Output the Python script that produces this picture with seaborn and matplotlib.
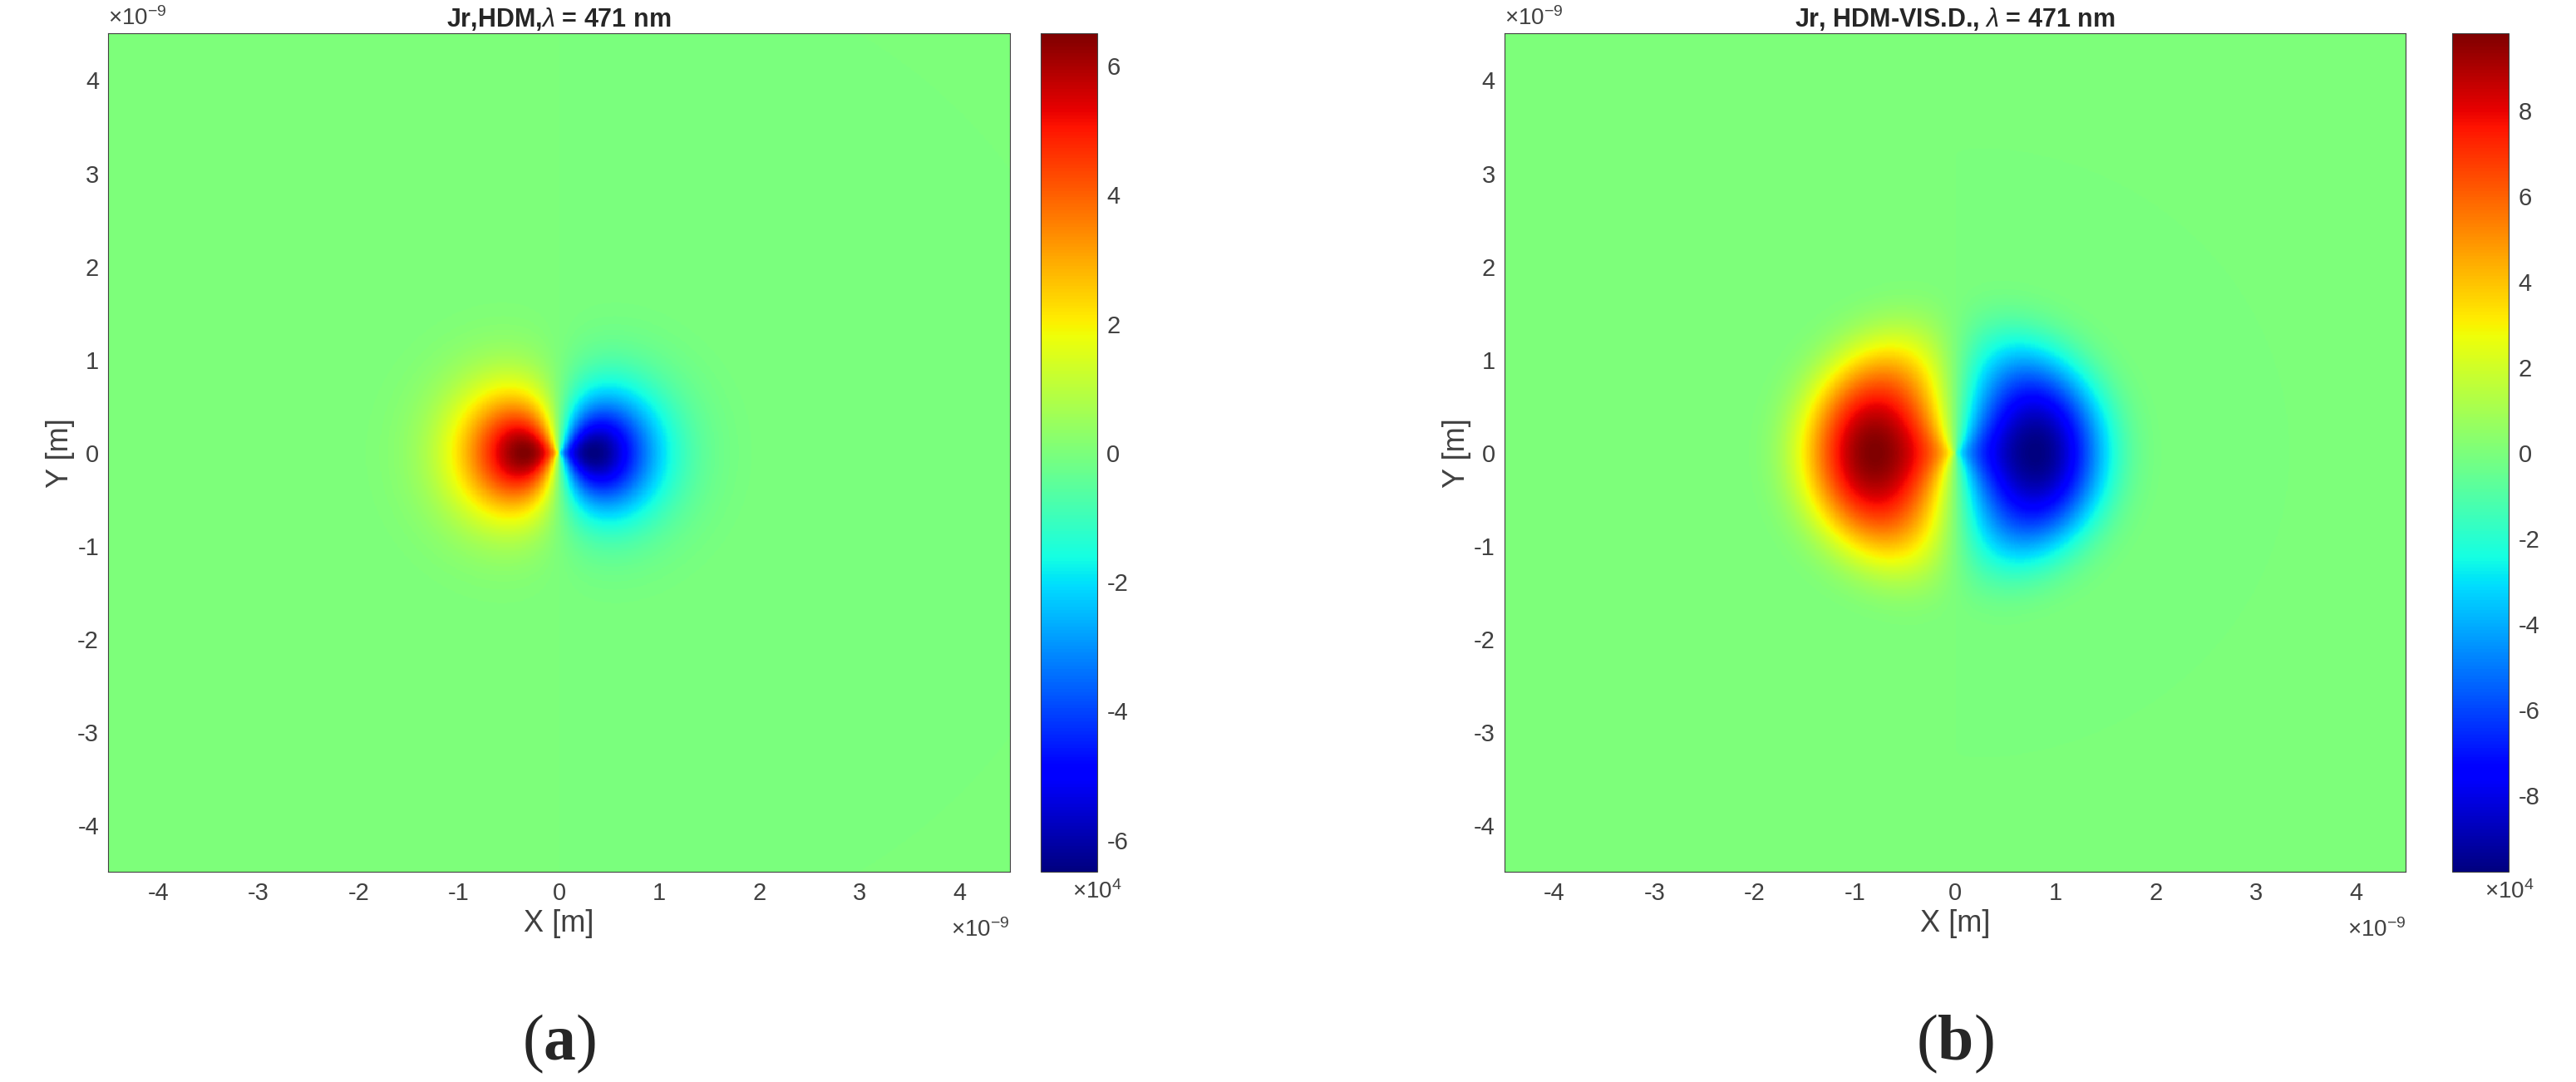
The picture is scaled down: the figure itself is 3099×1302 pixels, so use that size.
import numpy as np
import matplotlib
matplotlib.use("Agg")
import matplotlib.pyplot as plt
import seaborn as sns

titles = ["Jr,HDM,$\\lambda$ = 471 nm", "Jr, HDM-VIS.D., $\\lambda$ = 471 nm"]
panel_labels = ["a", "b"]
peak_amp = [6.5, 9.8]          # x1e4
peak_radius = [0.35, 0.8]      # x1e-9 m
rise_exp = [0.5, 0.5]
decay_exp = [1.8, 4.0]
cbar_ticks = [[-6, -4, -2, 0, 2, 4, 6], [-8, -6, -4, -2, 0, 2, 4, 6, 8]]
axis_ticks = [-4, -3, -2, -1, 0, 1, 2, 3, 4]

sns.set_style("white")
plt.rcParams['font.family'] = ['Liberation Sans', 'DejaVu Sans']
plt.rcParams['axes.unicode_minus'] = False
plt.rcParams['mathtext.fontset'] = 'custom'
plt.rcParams['mathtext.rm'] = 'Liberation Sans'
plt.rcParams['mathtext.it'] = 'Liberation Sans:italic'
plt.rcParams['mathtext.bf'] = 'Liberation Serif:bold'
cmap = plt.get_cmap("jet")
gc = "#404040"

fig = plt.figure(figsize=(30.99, 13.02), dpi=100)
axpos = [[0.042, 0.194, 0.350, 0.775], [0.584, 0.194, 0.350, 0.775]]
cbpos = [[0.404, 0.194, 0.022, 0.775], [0.952, 0.194, 0.022, 0.775]]

g = np.linspace(-4.5, 4.5, 901)
X, Y = np.meshgrid(g, g)
R = np.hypot(X, Y) + 1e-9
for i in range(2):
    rp, k, m, A = peak_radius[i], rise_exp[i], decay_exp[i], peak_amp[i]
    h = (R / rp) ** k * np.exp(k / m * (1 - (R / rp) ** m))
    Z = -A * (X / R) * h
    ax = fig.add_axes(axpos[i])
    mesh = ax.pcolormesh(g, g, Z, cmap=cmap, vmin=-A, vmax=A, shading="auto", rasterized=True)
    ax.set_xlim(-4.5, 4.5); ax.set_ylim(-4.5, 4.5)
    ax.set_xticks(axis_ticks); ax.set_yticks(axis_ticks)
    ax.tick_params(direction="in", labelsize=21, colors=gc, length=8, top=True, right=True, pad=8)
    for s in ax.spines.values():
        s.set_color(gc)
    ax.set_xlabel("X [m]", fontsize=26, color=gc, labelpad=4)
    ax.set_ylabel("Y [m]", fontsize=26, color=gc, labelpad=2)
    ax.set_title(titles[i], fontsize=22, fontweight="bold", pad=6)
    ax.text(0.0, 1.004, "$\\times10^{-9}$", transform=ax.transAxes, fontsize=20, color=gc, va="bottom")
    ax.text(1.0, -0.055, "$\\times10^{-9}$", transform=ax.transAxes, fontsize=20, color=gc, ha="right", va="top")
    cax = fig.add_axes(cbpos[i])
    cb = fig.colorbar(mesh, cax=cax, ticks=cbar_ticks[i])
    cax.tick_params(direction="in", labelsize=21, colors=gc, length=8, pad=8)
    cb.outline.set_edgecolor(gc)
    cax.text(1.0, -0.01, "$\\times10^{4}$", transform=cax.transAxes, fontsize=20, color=gc, ha="center", va="top")
    cx = axpos[i][0] + axpos[i][2] / 2
    fig.text(cx, 0.035, "($\\mathbf{%s}$)" % panel_labels[i], fontsize=56, family="Liberation Serif",
             ha="center", va="center")

fig.savefig("out.png", dpi=100)
